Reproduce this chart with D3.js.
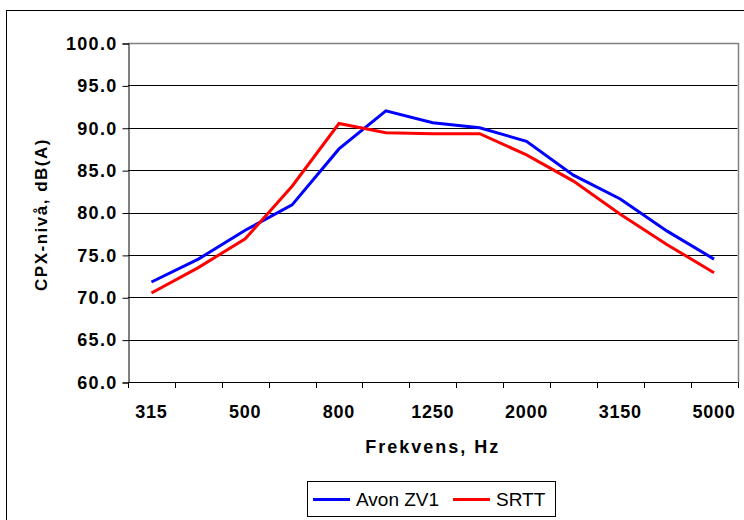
<!DOCTYPE html>
<html>
<head>
<meta charset="utf-8">
<script src="https://cdn.jsdelivr.net/npm/d3@7"></script>
<style>
  html, body { margin: 0; padding: 0; background: #fff; }
  svg { display: block; }
</style>
</head>
<body>
<svg id="chart" width="744" height="520"></svg>
<script>
const categories = ["315", "400", "500", "630", "800", "1000", "1250", "1600", "2000", "2500", "3150", "4000", "5000"];
const avonZV1 = [71.8, 74.5, 77.9, 80.9, 87.5, 92.0, 90.6, 90.0, 88.4, 84.4, 81.6, 77.8, 74.5];
const srtt = [70.5, 73.5, 76.9, 83.1, 90.5, 89.4, 89.3, 89.3, 86.8, 83.7, 79.8, 76.2, 72.9];
const yTicks = [60, 65, 70, 75, 80, 85, 90, 95, 100];
const xLabelCats = ["315", "500", "800", "1250", "2000", "3150", "5000"];
const seriesNames = ["Avon ZV1", "SRTT"];
const seriesColors = ["#0000FF", "#FF0000"];

(function () {
const svg = d3.select("#chart");
const font = "Arial, 'Liberation Sans', sans-serif";

// outer frame (extends beyond right/bottom edge)
svg.append("rect")
  .attr("x", 6.5).attr("y", 10.5)
  .attr("width", 760).attr("height", 540)
  .attr("fill", "#fff").attr("stroke", "#000").attr("stroke-width", 1);

const pL = 128, pR = 737.5, pT = 43, pB = 382;

const x = d3.scaleBand().domain(categories).range([pL, pR]).padding(0);
const y = d3.scaleLinear().domain([60, 100]).range([pB, pT]);

// gridlines
svg.append("g").selectAll("line")
  .data(yTicks.filter(d => d > 60 && d < 100))
  .join("line")
  .attr("x1", pL).attr("x2", pR)
  .attr("y1", d => Math.round(y(d)) + 0.5).attr("y2", d => Math.round(y(d)) + 0.5)
  .attr("stroke", "#000").attr("stroke-width", 1);

// plot border top/right (gray)
svg.append("path")
  .attr("d", `M${pL},${Math.round(pT) + 0.5}H${Math.round(pR) + 0.5}V${Math.round(pB)}`)
  .attr("fill", "none").attr("stroke", "#808080").attr("stroke-width", 1.5);

// y axis
const yAxis = svg.append("g")
  .attr("transform", `translate(${pL + 0.5},0.5)`)
  .call(d3.axisLeft(y).tickValues(yTicks).tickFormat(d3.format(".1f")).tickSize(6).tickPadding(5));
yAxis.select(".domain").attr("stroke", "#000");
yAxis.selectAll(".tick line").attr("stroke", "#000");
yAxis.selectAll(".tick text")
  .attr("fill", "#000")
  .style("font-family", font).style("font-weight", "bold").style("font-size", "18px")
  .style("letter-spacing", "1.3px");

// x axis: ticks at band boundaries
const xg = svg.append("g");
xg.append("line")
  .attr("x1", pL).attr("x2", pR)
  .attr("y1", Math.round(pB) + 0.5).attr("y2", Math.round(pB) + 0.5)
  .attr("stroke", "#000");
const boundaries = categories.map(c => x(c)).concat([x(categories[categories.length - 1]) + x.bandwidth()]);
xg.selectAll("line.tk").data(boundaries).join("line").attr("class", "tk")
  .attr("x1", d => Math.round(d) + 0.5).attr("x2", d => Math.round(d) + 0.5)
  .attr("y1", Math.round(pB)).attr("y2", Math.round(pB) + 6)
  .attr("stroke", "#000");
xg.selectAll("text").data(xLabelCats).join("text")
  .attr("x", d => x(d) + x.bandwidth() / 2)
  .attr("y", 418)
  .attr("text-anchor", "middle")
  .style("font-family", font).style("font-weight", "bold").style("font-size", "18px")
  .style("letter-spacing", "0.8px")
  .text(d => d);

// axis titles
svg.append("text")
  .attr("x", (pL + pR) / 2).attr("y", 453)
  .attr("text-anchor", "middle")
  .style("font-family", font).style("font-weight", "bold").style("font-size", "18px")
  .style("letter-spacing", "2px")
  .text("Frekvens, Hz");

svg.append("text")
  .attr("transform", `translate(47,${(pT + pB) / 2 + 2}) rotate(-90)`)
  .attr("text-anchor", "middle")
  .style("font-family", font).style("font-weight", "bold").style("font-size", "17px")
  .style("letter-spacing", "1.5px")
  .text("CPX-nivå, dB(A)");

// lines
const line = d3.line().x((d, i) => x(categories[i]) + x.bandwidth() / 2).y(d => y(d));
[avonZV1, srtt].forEach((vals, k) => {
  svg.append("path")
    .datum(vals)
    .attr("d", line)
    .attr("fill", "none")
    .attr("stroke", seriesColors[k])
    .attr("stroke-width", 3)
    .attr("stroke-linejoin", "miter");
});

// legend
const lg = svg.append("g");
lg.append("rect")
  .attr("x", 307.5).attr("y", 481.5).attr("width", 248).attr("height", 35)
  .attr("fill", "#fff").attr("stroke", "#000");
const legendItems = [
  { name: seriesNames[0], color: seriesColors[0], x1: 313, x2: 350, tx: 356 },
  { name: seriesNames[1], color: seriesColors[1], x1: 453, x2: 490, tx: 496 }
];
legendItems.forEach(it => {
  lg.append("line")
    .attr("x1", it.x1).attr("x2", it.x2).attr("y1", 499.5).attr("y2", 499.5)
    .attr("stroke", it.color).attr("stroke-width", 3);
  lg.append("text")
    .attr("x", it.tx).attr("y", 506)
    .style("font-family", font).style("font-size", "19px")
    .text(it.name);
});
})();
</script>
</body>
</html>
